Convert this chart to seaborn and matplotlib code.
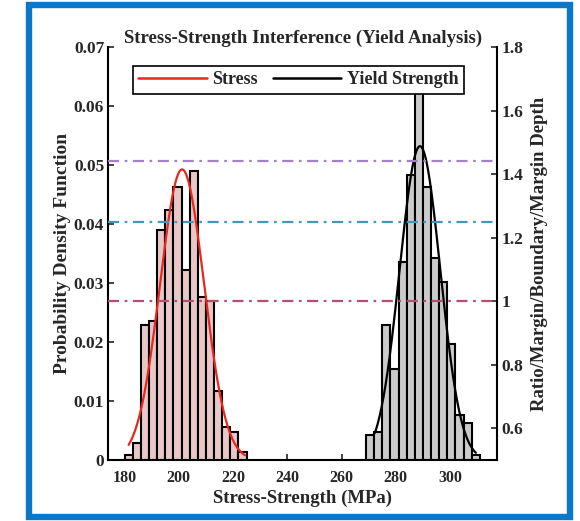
import numpy as np
import pandas as pd
import seaborn as sns
import matplotlib
matplotlib.use("Agg")
import matplotlib.pyplot as plt
from matplotlib.patches import Rectangle
from matplotlib.lines import Line2D
from matplotlib.ticker import FormatStrFormatter

# Histogram bins (MPa) and normalised densities
bin_width = 3
stress_start = 180
stress_density = [0.00085, 0.0028, 0.0229, 0.0236, 0.0390, 0.0424, 0.0463, 0.0322,
                  0.0490, 0.0276, 0.0270, 0.0117, 0.0056, 0.0048, 0.0014]

strength_start = 269
strength_density = [0.0043, 0.0048, 0.0228, 0.0155, 0.0336, 0.0483, 0.0655, 0.0462,
                    0.0342, 0.0302, 0.0197, 0.0077, 0.0062, 0.0008]

# Fitted normal distributions (mean, std, plotted range)
stress_mu, stress_sigma = 201.2, 8.1
stress_range = (181.5, 224.5)
strength_mu, strength_sigma = 288.9, 7.5
strength_range = (272.3, 309.5)

# Reference levels on the secondary axis
ref_levels = [1.44, 1.25, 1.0]
ref_colors = ["#a282c6", "#4596b8", "#b25072"]

title = "Stress-Strength Interference (Yield Analysis)"
xlabel = "Stress-Strength (MPa)"
ylabel_left = "Probability Density Function"
ylabel_right = "Ratio/Margin/Boundary/Margin Depth"
x_ticks = [180, 200, 220, 240, 260, 280, 300]
y_ticks_left = [0, 0.01, 0.02, 0.03, 0.04, 0.05, 0.06, 0.07]
y_ticks_right = [0.6, 0.8, 1.0, 1.2, 1.4, 1.6, 1.8]

sns.set_theme(style="white")
plt.rcParams["font.family"] = ["Liberation Serif", "DejaVu Serif"]
plt.rcParams["font.weight"] = "bold"
plt.rcParams["axes.labelweight"] = "bold"
plt.rcParams["axes.titleweight"] = "bold"

fig = plt.figure(figsize=(5.80, 5.21), dpi=100)
fig.patch.set_facecolor("white")
ax = fig.add_axes([108.3 / 580, 61 / 521, 388.7 / 580, 413 / 521])


def normal_pdf(x, mu, sigma):
    return np.exp(-0.5 * ((x - mu) / sigma) ** 2) / (sigma * np.sqrt(2 * np.pi))


def hist_frame(start, dens):
    n = len(dens)
    centers = start + bin_width * (np.arange(n) + 0.5)
    return pd.DataFrame({"x": centers, "d": dens}), (start, start + n * bin_width)


stress_df, stress_br = hist_frame(stress_start, stress_density)
strength_df, strength_br = hist_frame(strength_start, strength_density)

sns.histplot(data=stress_df, x="x", weights="d", binwidth=bin_width,
             binrange=stress_br, stat="count", color="#e9c7c7", alpha=1.0,
             edgecolor="black", linewidth=1.5, ax=ax)
sns.histplot(data=strength_df, x="x", weights="d", binwidth=bin_width,
             binrange=strength_br, stat="count", color="#cbcbcb", alpha=1.0,
             edgecolor="black", linewidth=1.5, ax=ax)

xs = np.linspace(*stress_range, 200)
sns.lineplot(x=xs, y=normal_pdf(xs, stress_mu, stress_sigma), color="#e8281e",
             linewidth=1.6, ax=ax)
xg = np.linspace(*strength_range, 200)
sns.lineplot(x=xg, y=normal_pdf(xg, strength_mu, strength_sigma), color="black",
             linewidth=1.6, ax=ax)

ax.set_xlim(174, 317.3)
ax.set_ylim(0, 0.07)
ax.set_xticks(x_ticks)
ax.set_yticks(y_ticks_left)
ax.yaxis.set_major_formatter(FormatStrFormatter("%g"))
ax.set_xlabel(xlabel, fontsize=13.5, labelpad=3)
ax.set_ylabel(ylabel_left, fontsize=14, labelpad=2)
ax.set_title(title, fontsize=13.5, pad=1)
ax.tick_params(axis="x", direction="in", length=4, width=1.2, labelsize=11.5,
               bottom=True, top=False, pad=7)
ax.tick_params(axis="y", direction="in", length=4, width=1.2, labelsize=12.5,
               left=True, right=False, pad=3)
ax.spines["top"].set_visible(False)
ax.spines["right"].set_visible(False)
for s in ("left", "bottom"):
    ax.spines[s].set_linewidth(1.5)
    ax.spines[s].set_color("black")

ax2 = ax.twinx()
for lvl, c in zip(ref_levels, ref_colors):
    ax2.axhline(lvl, color=c, linestyle=(0, (5, 2.5, 1.2, 2.5)), linewidth=1.6)
ax2.set_ylim(0.5, 1.8)
ax2.set_yticks(y_ticks_right)
ax2.yaxis.set_major_formatter(FormatStrFormatter("%g"))
ax2.set_ylabel(ylabel_right, fontsize=13.5, labelpad=5)
ax2.tick_params(axis="y", direction="in", length=4, width=1.2, labelsize=12.5,
                right=True, left=False, pad=3.5)
ax2.spines["top"].set_visible(False)
ax2.spines["left"].set_visible(False)
ax2.spines["bottom"].set_visible(False)
ax2.spines["right"].set_linewidth(1.5)
ax2.spines["right"].set_color("black")

handles = [Line2D([], [], color="#e8281e", linewidth=1.8),
           Line2D([], [], color="black", linewidth=1.8)]
leg = ax2.legend(handles, ["Stress", "Yield Strength"], loc="upper center",
                 bbox_to_anchor=(0.489, 0.954), ncol=2, fontsize=13,
                 handlelength=3.8, handletextpad=0.3, columnspacing=0.8,
                 frameon=True, fancybox=False, borderpad=0.3, borderaxespad=0)
leg.get_frame().set_edgecolor("black")
leg.get_frame().set_linewidth(1.2)
leg.get_frame().set_alpha(1)

# Blue frame around the whole figure
fig.patches.append(Rectangle((28.5 / 580, 4 / 521), 541 / 580, 512 / 521,
                             transform=fig.transFigure, fill=False,
                             edgecolor="#0b77c8", linewidth=4.6))

fig.savefig("out.png", dpi=100)
